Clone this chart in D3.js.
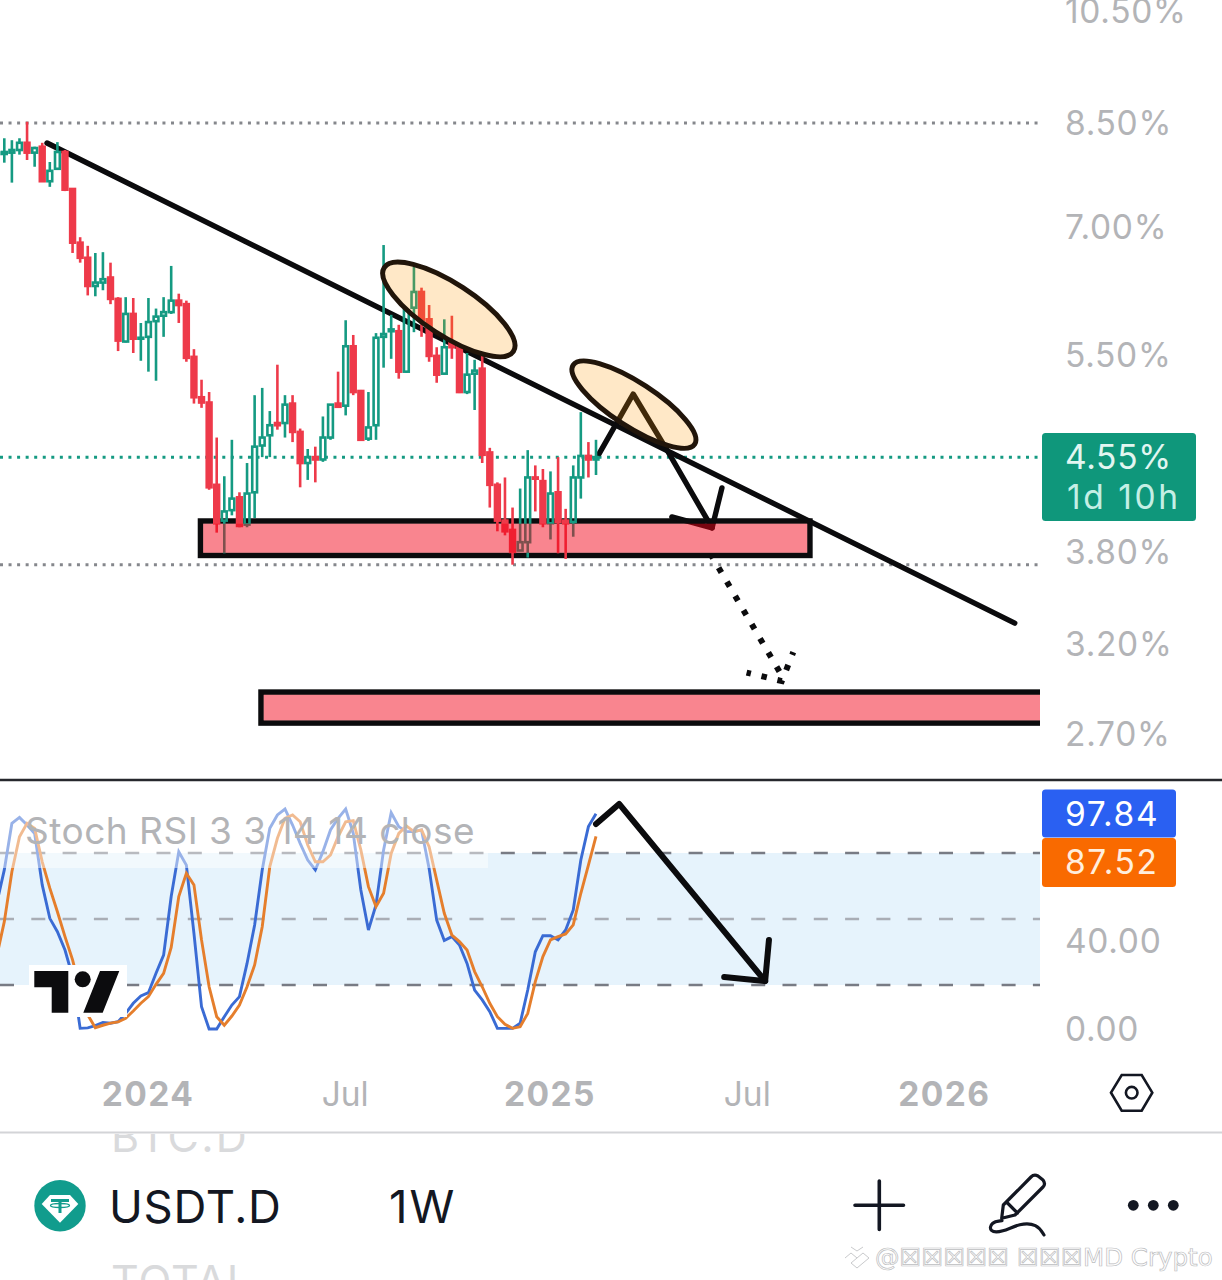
<!DOCTYPE html>
<html>
<head>
<meta charset="utf-8">
<script src="https://cdnjs.cloudflare.com/ajax/libs/d3/7.8.5/d3.min.js"></script>
<style>
    html, body { margin: 0; padding: 0; background: #fff; }
    svg { display: block; }
    text { font-family: Inter, "Liberation Sans", sans-serif; }
</style>
</head>
<body>
<div id="chart"></div>
<script>
// weekly bars, first one is the week of 14 Aug 2023
var firstWeek = "2023-08-14";

var opens = [8.02,8.02,8.04,8.08,8.19,8.04,8.13,7.62,7.80,8.05,7.51,6.79,6.60,6.26,6.30,6.36,6.11,5.64,5.94,5.67,5.69,
    5.86,5.92,5.96,6.09,6.05,5.48,5.08,5.03,4.31,4.03,4.11,4.21,4.00,4.25,4.64,4.73,4.84,4.84,5.02,4.76,4.49,4.54,4.52,
    4.71,5.02,5.00,5.59,5.14,4.70,4.82,5.69,5.75,5.75,5.33,6.01,6.19,5.88,5.49,5.31,5.63,5.58,5.13,5.31,5.36,4.58,4.31,
    4.03,3.96,3.81,3.87,4.37,4.34,4.01,4.25,4.03,4.02,4.37,4.55,4.52];
var highs = [8.08,8.26,8.23,8.26,8.52,8.13,8.19,7.90,8.20,8.08,7.51,6.86,6.75,6.66,6.67,6.54,6.13,6.13,6.12,5.84,6.12,
    6.00,6.13,6.50,6.17,6.09,5.56,5.25,5.13,4.71,4.38,4.69,4.25,4.49,5.10,5.17,4.95,5.40,5.10,5.10,4.79,4.61,4.63,4.90,
    5.01,5.33,5.87,5.71,5.15,5.13,5.73,6.76,5.93,5.82,6.01,6.49,6.24,6.04,5.58,5.88,5.92,5.61,5.52,5.45,5.51,4.62,4.33,
    4.37,4.13,4.28,4.60,4.47,4.44,4.42,4.54,4.12,4.47,4.94,4.67,4.69];
var lows = [7.99,7.89,7.60,8.01,7.93,7.83,7.61,7.54,7.80,7.48,6.66,6.54,6.15,6.14,6.21,6.05,5.54,5.63,5.52,5.44,5.33,
    5.24,5.69,5.94,5.84,5.43,5.02,4.98,4.27,3.94,3.79,4.07,3.98,3.98,4.05,4.54,4.54,4.78,4.71,4.67,4.29,4.35,4.33,4.50,
    4.69,4.99,4.91,5.10,4.68,4.68,4.69,5.37,5.46,5.26,5.32,5.74,5.69,5.43,5.22,5.30,5.46,5.12,5.11,4.96,4.49,4.13,3.95,
    3.92,3.71,3.81,3.76,4.10,3.98,3.89,3.79,3.75,3.91,4.20,4.37,4.39];
var closes = [8.04,8.05,8.08,8.19,8.04,8.11,7.62,7.77,8.05,7.50,6.79,6.60,6.26,6.30,6.34,6.11,5.65,5.94,5.67,5.68,5.85,
    5.91,5.96,6.09,6.04,5.47,5.08,5.03,4.29,4.01,4.10,4.20,3.99,4.24,4.63,4.71,4.82,4.82,5.01,4.76,4.49,4.54,4.52,4.71,
    5.01,4.99,5.59,5.13,4.69,4.80,5.68,5.72,5.77,5.33,5.98,6.19,5.87,5.49,5.30,5.58,5.58,5.13,5.30,5.34,4.56,4.31,4.03,
    3.95,3.80,3.87,4.37,4.36,4.01,4.24,4.02,4.01,4.37,4.55,4.52,4.54];

// stoch rsi, same bars
var stochK = [57.1,72.3,93.5,96.2,92.7,88.9,65.5,50.3,44.2,35.9,23.8,0.3,0.5,1.5,3,2.6,3.3,7.1,11.7,15,16.5,25.3,33.6,60.2,
    80.6,74.5,43.5,10.1,0,0,5.6,10.9,14.7,29.8,47.3,72.3,91.2,97.3,100,92.7,84.4,76.8,72.3,80.6,90.5,95.8,100,88.9,63.2,
    45,56.4,81.4,98.3,92,89.7,89.7,90.5,73,49.5,40.2,42,38.2,29.8,17.7,13.2,7.9,0.3,0.3,0.3,2.6,17.7,35.1,42.4,42.4,40.5,
    45,54.1,76.8,92,97.84];
var stochD = [33,48.8,71.5,87.4,93.5,91.2,76,64,53.3,42,31.4,17.7,6.4,0.6,1.7,2.7,3.2,4.9,8.2,11.7,14.7,20.3,25.3,37.1,
    60.2,70.8,65.5,40.5,19.2,5.6,1.7,5.9,10.9,19.2,29.1,46.5,73.8,86.7,95.8,97.3,94.2,83.6,76,76,79.1,87.4,94.2,94.7,81.4,
    64.7,55.6,61.7,79.8,88.9,92.3,89.7,90.5,82.9,67.7,52.6,42.7,39.7,35.9,26.1,19.2,11.7,5.6,2.1,0.3,1,7.1,21.5,32.9,40.5,
    42,43.2,47.3,61.7,74.5,87.52];

var priceTicks = [10.5, 8.5, 7, 5.5, 3.8, 3.2, 2.7];
var stochTicks = [40, 0];
var stochBands = [80, 50, 20];
var timeTickDates = ["2024-01-01", "2024-07-01", "2025-01-06", "2025-07-07", "2026-01-05"];
var timeTickLabels = ["2024", "Jul", "2025", "Jul", "2026"];

var highLine = 8.5, lastLine = 4.54, lowLine = 3.71;

// drawings, [weeks after 21 Aug 2023, price]
var trendLine = [[5.63, 8.187], [133.2, 3.325]];
var arrowPath = [[78.4, 4.568], [82.9, 5.111], [87.5, 4.585], [93.3, 3.975]];
var arrowHead = [[94.6, 4.285], [93.3, 3.975], [88.0, 4.058]];
var dottedPath = [[93.25, 3.772], [102.5, 3.012]];
var dottedHead = [[104.0, 3.148], [102.5, 2.982], [97.85, 3.03]];
var zoneUpper = {from: 25.86, to: 106.2, top: 4.027, bottom: 3.775};
var zoneLower = {from: 33.84, to: 150, top: 2.921, bottom: 2.756};
var ellipseCentres = [[58.6, 5.99], [83.0, 5.01]];
var stochArrow = [[78.0, 93.2], [81.05, 102.3], [100.3, 21.8]];
var stochArrowHead = [[100.8, 40.5], [100.3, 21.8], [94.9, 23.6]];

var width = 1222, height = 1280, plotRight = 1040;
var green = "#159a82", red = "#ee3a4a", ink = "#0b0b0d", grey = "#b3b4b7";

var svg = d3.select("#chart").append("svg")
    .attr("width", width)
    .attr("height", height);

svg.append("clipPath").attr("id", "plot-clip")
    .append("rect").attr("width", plotRight).attr("height", 780);
svg.append("clipPath").attr("id", "stoch-clip")
    .append("rect").attr("y", 781).attr("width", plotRight).attr("height", 300);
svg.append("clipPath").attr("id", "menu-clip")
    .append("rect").attr("y", 1134).attr("width", width).attr("height", 146);

var parseDay = d3.utcParse("%Y-%m-%d");
var week0 = parseDay("2023-08-21");

var x = d3.scaleUtc()
    .domain([week0, parseDay("2025-02-17")])
    .range([4.3, 596]);
var y = d3.scaleLog().domain([2.7, 8.5]).range([734, 123]);
var yStoch = d3.scaleLinear().domain([0, 100]).range([1029, 809]);

// fractional week position -> pixel
function wx(w) { return x(new Date(+week0 + w * 7 * 864e5)); }

var bars = opens.map(function(o, i) {
    return {
        date: d3.utcMonday.offset(parseDay(firstWeek), i),
        open: o, high: highs[i], low: lows[i], close: closes[i],
        k: stochK[i], d: stochD[i]
    };
});

var priceLine = d3.line()
    .x(function(d) { return wx(d[0]); })
    .y(function(d) { return y(d[1]); });
var stochLine = d3.line()
    .x(function(d) { return wx(d[0]); })
    .y(function(d) { return yStoch(d[1]); });

//---- price pane
var plot = svg.append("g").attr("clip-path", "url(#plot-clip)");

plot.selectAll("line.level")
    .data([
        {v: highLine, c: "#85878c"},
        {v: lastLine, c: "#159a82"},
        {v: lowLine, c: "#85878c"}
    ])
    .enter().append("line")
    .attr("class", "level")
    .attr("x1", 0).attr("x2", plotRight)
    .attr("y1", function(d) { return y(d.v); })
    .attr("y2", function(d) { return y(d.v); })
    .attr("stroke", function(d) { return d.c; })
    .attr("stroke-width", 3)
    .attr("stroke-dasharray", "3 5.55");

function zoneBox(z) {
    return {
        x: wx(z.from), y: y(z.top),
        w: wx(z.to) - wx(z.from), h: y(z.bottom) - y(z.top)
    };
}
var zones = [zoneBox(zoneUpper), zoneBox(zoneLower)];

// outline sits under the candles, the fill above them
plot.selectAll("rect.zone-edge")
    .data(zones)
    .enter().append("rect")
    .attr("class", "zone-edge")
    .attr("x", function(d) { return d.x; })
    .attr("y", function(d) { return d.y; })
    .attr("width", function(d) { return d.w; })
    .attr("height", function(d) { return d.h; })
    .attr("fill", "none")
    .attr("stroke", ink)
    .attr("stroke-width", 5.5);

function drawLine(sel, gen, pts, w) {
    return sel.append("path")
        .attr("d", gen(pts))
        .attr("fill", "none")
        .attr("stroke", ink)
        .attr("stroke-width", w)
        .attr("stroke-linecap", "round")
        .attr("stroke-linejoin", "round");
}

drawLine(plot, priceLine, trendLine, 5.4);
drawLine(plot, priceLine, arrowPath, 5.4);
drawLine(plot, priceLine, arrowHead, 5.4);

var candles = plot.selectAll("g.candle")
    .data(bars)
    .enter().append("g")
    .attr("class", "candle")
    .attr("transform", function(d) { return "translate(" + x(d.date) + ",0)"; })
    .attr("stroke", function(d) { return d.close >= d.open ? green : red; });

// wicks stop at the body so hollow candles stay hollow
candles.append("line")
    .attr("y1", function(d) { return y(d.high); })
    .attr("y2", function(d) { return y(Math.max(d.open, d.close)); })
    .attr("stroke-width", 2.6);
candles.append("line")
    .attr("y1", function(d) { return y(Math.min(d.open, d.close)); })
    .attr("y2", function(d) { return y(d.low); })
    .attr("stroke-width", 2.6);
candles.append("rect")
    .attr("x", -2.4)
    .attr("width", 4.8)
    .attr("y", function(d) { return y(Math.max(d.open, d.close)); })
    .attr("height", function(d) { return Math.abs(y(d.open) - y(d.close)); })
    .attr("stroke-width", 2.6)
    .attr("fill", function(d) { return d.close >= d.open ? "none" : red; });

var ellipseSizes = [[77, 26], [72.5, 22]];
plot.selectAll("ellipse.note")
    .data(ellipseCentres)
    .enter().append("ellipse")
    .attr("class", "note")
    .attr("transform", function(d) { return "translate(" + wx(d[0]) + "," + y(d[1]) + ") rotate(33)"; })
    .attr("rx", function(d, i) { return ellipseSizes[i][0]; })
    .attr("ry", function(d, i) { return ellipseSizes[i][1]; })
    .attr("fill", "rgba(255,152,0,0.22)")
    .attr("stroke", "#21150a")
    .attr("stroke-width", 5);

plot.selectAll("rect.zone-fill")
    .data(zones)
    .enter().append("rect")
    .attr("class", "zone-fill")
    .attr("x", function(d) { return d.x + 2.7; })
    .attr("y", function(d) { return d.y + 2.7; })
    .attr("width", function(d) { return d.w - 5.4; })
    .attr("height", function(d) { return d.h - 5.4; })
    .attr("fill", "rgba(242,0,20,0.48)");

[dottedPath, dottedHead].forEach(function(pts) {
    plot.append("path")
        .attr("d", priceLine(pts))
        .attr("fill", "none")
        .attr("stroke", ink)
        .attr("stroke-width", 6)
        .attr("stroke-dasharray", "5.5 10.9")
        .attr("stroke-dashoffset", 2.7);
});

//---- stoch pane
svg.append("line")
    .attr("x1", 0).attr("x2", width)
    .attr("y1", 780).attr("y2", 780)
    .attr("stroke", "#26282d")
    .attr("stroke-width", 2.4);

var stoch = svg.append("g").attr("clip-path", "url(#stoch-clip)");

stoch.append("rect")
    .attr("x", 0).attr("width", plotRight)
    .attr("y", yStoch(stochBands[0]))
    .attr("height", yStoch(stochBands[2]) - yStoch(stochBands[0]))
    .attr("fill", "#e6f3fc");

stoch.selectAll("line.band")
    .data(stochBands)
    .enter().append("line")
    .attr("class", "band")
    .attr("x1", 0).attr("x2", plotRight)
    .attr("y1", function(d) { return yStoch(d); })
    .attr("y2", function(d) { return yStoch(d); })
    .attr("stroke", function(d) { return d === 50 ? "#a9adb5" : "#787b84"; })
    .attr("stroke-width", 2.4)
    .attr("stroke-dasharray", "14 17.3");

[["k", "#3a6bd4"], ["d", "#e57e2c"]].forEach(function(s) {
    stoch.append("path")
        .datum(bars)
        .attr("d", d3.line()
            .x(function(d) { return x(d.date); })
            .y(function(d) { return yStoch(d[s[0]]); }))
        .attr("fill", "none")
        .attr("stroke", s[1])
        .attr("stroke-width", 2.9);
});

drawLine(stoch, stochLine, stochArrow, 6);
drawLine(stoch, stochLine, stochArrowHead, 6);

// legend plate washes out whatever is behind the title
svg.append("rect")
    .attr("x", 0).attr("y", 806)
    .attr("width", 488).attr("height", 62)
    .attr("fill", "#fff")
    .attr("opacity", 0.48);
svg.append("text")
    .attr("x", 25).attr("y", 844)
    .attr("fill", grey)
    .style("font-size", "37px")
    .style("letter-spacing", "0.5px")
    .text("Stoch RSI 3 3 14 14 close");

// tradingview badge
var badge = svg.append("g");
badge.append("rect")
    .attr("x", 29).attr("y", 965)
    .attr("width", 98).attr("height", 52)
    .attr("fill", "#fff");
badge.append("path")
    .attr("d", "M34.3,971H68.3V1012.7H51.7V987.3H34.3Z M100,971H119.3L102.7,1012.7H83.3Z")
    .attr("fill", "#0c0c0e");
badge.append("circle")
    .attr("cx", 82.7).attr("cy", 979.3).attr("r", 8)
    .attr("fill", "#0c0c0e");

//---- axes
function styleAxis(g) {
    g.select(".domain").remove();
    g.selectAll("text")
        .attr("fill", grey)
        .style("font-size", "33.5px")
        .style("letter-spacing", "0.7px");
}

svg.append("g")
    .attr("transform", "translate(1065,1)")
    .call(d3.axisRight(y)
        .tickValues(priceTicks)
        .tickSize(0).tickPadding(0)
        .tickFormat(function(d) { return d3.format(".2f")(d) + "%"; }))
    .call(styleAxis);

svg.append("g")
    .attr("transform", "translate(1065,1)")
    .call(d3.axisRight(yStoch)
        .tickValues(stochTicks)
        .tickSize(0).tickPadding(0)
        .tickFormat(d3.format(".2f")))
    .call(styleAxis);

var timeDates = timeTickDates.map(parseDay);
svg.append("g")
    .attr("transform", "translate(-1,1082)")
    .call(d3.axisBottom(x)
        .tickValues(timeDates)
        .tickSize(0).tickPadding(0)
        .tickFormat(function(d, i) { return timeTickLabels[i]; }))
    .call(styleAxis)
    .selectAll("text")
    .style("font-weight", function(d, i) { return timeTickLabels[i] === "Jul" ? 400 : 700; })
    .style("letter-spacing", function(d, i) { return timeTickLabels[i] === "Jul" ? "0px" : "1.4px"; });

//---- price tags
var tags = [
    {x: 1042, y: 433, w: 154, h: 88, c: "#0f977b", lines: ["4.55%", "1d 10h"], tc: ["#e2f6f1", "#c4efe5"], ty: [469, 509], tx: [1065, 1067], ls: [0.7, 2.6]},
    {x: 1042, y: 789.5, w: 134, h: 48, c: "#2a60f2", lines: ["97.84"], tc: ["#fff"], ty: [826], tx: [1065], ls: [1.6]},
    {x: 1042, y: 838, w: 134, h: 49, c: "#f96a00", lines: ["87.52"], tc: ["#ffeedd"], ty: [874], tx: [1065], ls: [1.6]}
];
tags.forEach(function(t) {
    svg.append("rect")
        .attr("x", t.x).attr("y", t.y)
        .attr("width", t.w).attr("height", t.h)
        .attr("rx", 3.5)
        .attr("fill", t.c);
    t.lines.forEach(function(s, i) {
        svg.append("text")
            .attr("x", t.tx[i]).attr("y", t.ty[i])
            .attr("fill", t.tc[i])
            .style("font-size", "33.5px")
            .style("letter-spacing", t.ls[i] + "px")
            .text(s);
    });
});

// settings hexagon
var gear = svg.append("g").attr("fill", "none").attr("stroke", "#131722").attr("stroke-width", 2.6);
gear.append("path").attr("d", "M1111,1092.7L1121.7,1075H1141.7L1152.3,1092.7L1141.7,1110.7H1121.7Z");
gear.append("circle").attr("cx", 1131.7).attr("cy", 1092.7).attr("r", 5.8);

svg.append("line")
    .attr("x1", 0).attr("x2", width)
    .attr("y1", 1132.5).attr("y2", 1132.5)
    .attr("stroke", "#d3d4d7")
    .attr("stroke-width", 2);

//---- bottom bar
var menu = svg.append("g").attr("clip-path", "url(#menu-clip)");
menu.append("text")
    .attr("x", 111).attr("y", 1152)
    .attr("fill", "#d9dadc")
    .style("font-size", "43px")
    .style("letter-spacing", "2.2px")
    .text("BTC.D");
menu.append("text")
    .attr("x", 111).attr("y", 1296)
    .attr("fill", "#d9dadc")
    .style("font-size", "43px")
    .style("letter-spacing", "1px")
    .text("TOTAL");

svg.append("text")
    .attr("x", 109).attr("y", 1223)
    .attr("fill", "#131722")
    .style("font-size", "45.5px")
    .style("letter-spacing", "0.7px")
    .text("USDT.D");
svg.append("text")
    .attr("x", 389).attr("y", 1223)
    .attr("fill", "#131722")
    .style("font-size", "45.5px")
    .style("letter-spacing", "2px")
    .text("1W");

// tether mark
var tether = svg.append("g");
tether.append("circle")
    .attr("cx", 60).attr("cy", 1205.7).attr("r", 25.7)
    .attr("fill", "#119c8d");
tether.append("path")
    .attr("d", "M41.7,1204L50,1195H70L78.3,1204L60,1222.7Z")
    .attr("fill", "#fff");
tether.append("path")
    .attr("d", "M51,1200.5H69M60,1200.5V1213")
    .attr("stroke", "#119c8d")
    .attr("stroke-width", 3)
    .attr("fill", "none");
tether.append("ellipse")
    .attr("cx", 60).attr("cy", 1205.5).attr("rx", 9.5).attr("ry", 2)
    .attr("fill", "none")
    .attr("stroke", "#119c8d")
    .attr("stroke-width", 1.3);

// plus, pencil, dots
var tools = svg.append("g").attr("fill", "none").attr("stroke", "#131722").attr("stroke-linecap", "round").attr("stroke-linejoin", "round");
tools.append("path")
    .attr("d", "M879.3,1181V1229.5M855,1205.3H903.5")
    .attr("stroke-width", 3.6);
tools.append("path")
    .attr("d", "M1003.3,1205L1031,1177Q1034,1174 1038,1176L1043,1180Q1046,1184 1043,1187L1015,1215L1001.7,1218.3Z M1006.5,1202L1017.5,1213")
    .attr("stroke-width", 3.2);
tools.append("path")
    .attr("d", d3.line().curve(d3.curveBasis)([[1002, 1220.7], [991, 1222], [989, 1232], [1002, 1232.5], [1020, 1223], [1037, 1224], [1044, 1235]]))
    .attr("stroke-width", 3.2);
svg.selectAll("circle.more")
    .data([1133.3, 1153.3, 1173.3])
    .enter().append("circle")
    .attr("class", "more")
    .attr("cx", function(d) { return d; })
    .attr("cy", 1205.3)
    .attr("r", 5.4)
    .attr("fill", "#131722");

// watermark
var mark = svg.append("g");
mark.append("path")
    .attr("d", "M845,1258L851,1253L857,1258L851,1263M851,1263L857,1268L863,1263M857,1258L863,1253L869,1258L863,1263M851,1247L857,1251L863,1247")
    .attr("fill", "none")
    .attr("stroke", "#c9cacc")
    .attr("stroke-width", 1);
mark.append("text")
    .attr("x", 875).attr("y", 1266)
    .attr("fill", "#fff")
    .attr("stroke", "#bcbdc0")
    .attr("stroke-width", 0.7)
    .style("font-family", "'DejaVu Sans'")
    .style("font-size", "24.5px")
    .text("@☒☒☒☒☒ ☒☒☒MD Crypto");
</script>
</body>
</html>
